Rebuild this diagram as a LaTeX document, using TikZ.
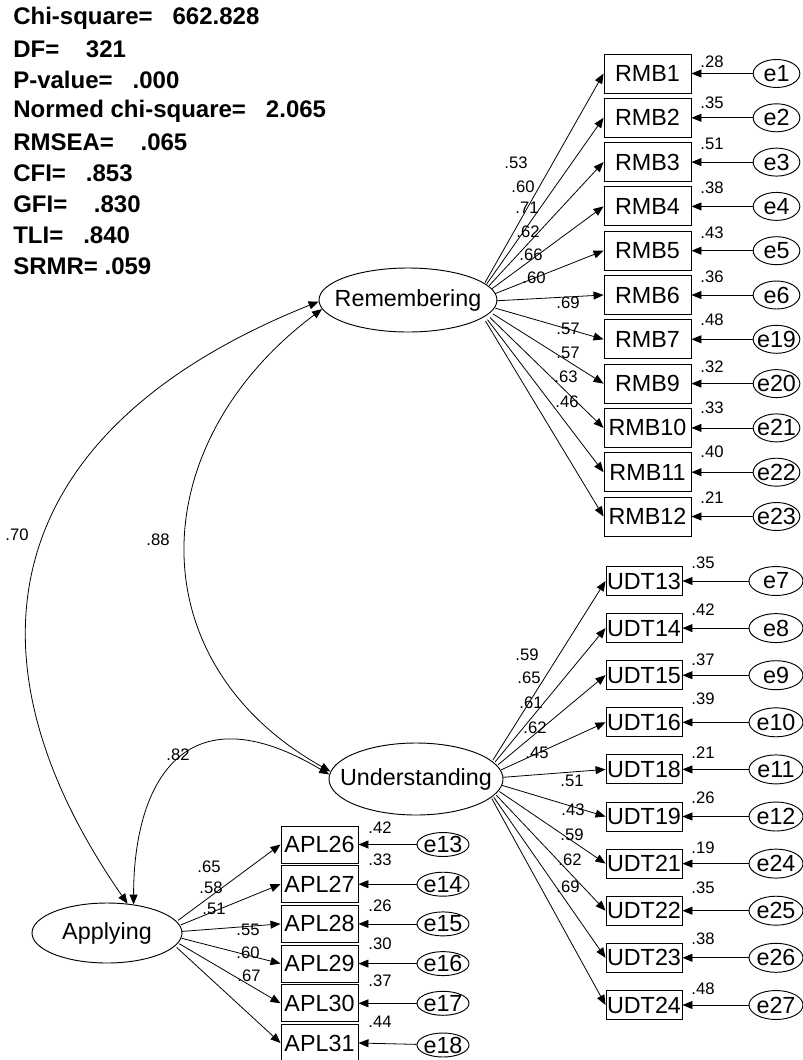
\documentclass[tikz,border=0pt]{standalone}
\usepackage{fontspec}
\setmainfont{Liberation Sans}
\usepackage{tikz}
\usetikzlibrary{shapes, arrows.meta}
\newcommand{\itemfont}{\fontsize{17.5}{21}\selectfont}
\newcommand{\coeffont}{\fontsize{12.5}{15}\selectfont}
\newcommand{\statfont}{\fontsize{18}{22}\selectfont\bfseries}
\newcommand{\zw}[1]{\makebox[0pt]{#1}}
\tikzset{
  lat/.style={draw, ellipse, inner sep=0pt, line width=0.7pt, font=\itemfont},
  obs/.style={draw, rectangle, inner sep=0pt, line width=0.7pt, font=\itemfont},
  err/.style={draw, ellipse, inner sep=0pt, line width=0.7pt, font=\itemfont},
  rmb/.style={obs, minimum width=65.25pt, minimum height=29.25pt},
  udt/.style={obs, minimum width=57pt, minimum height=21.75pt},
  apl/.style={obs, minimum width=57.75pt, minimum height=27.75pt},
  ermb/.style={err, minimum width=35pt, minimum height=21pt},
  eudt/.style={err, minimum width=40.5pt, minimum height=21.75pt},
  eapl/.style={err, minimum width=39pt, minimum height=18pt},
  hub/.style={circle, inner sep=0pt},
  coef/.style={inner sep=0pt, font=\coeffont},
  stat/.style={anchor=west, inner sep=0pt, font=\statfont},
  load/.style={-{Triangle[length=7.5pt,width=6pt]}, line width=0.6pt},
  cov/.style={{Triangle[length=7.5pt,width=6pt]}-{Triangle[length=7.5pt,width=6pt]}, line width=0.6pt}
}

\begin{document}
\begin{tikzpicture}[x=0.75pt, y=-0.75pt]
\useasboundingbox (0,0) rectangle (803,1060);
% fit indices
\node[stat] (chi) at (13,18) {Chi-square=~~~662.828};
\node[stat] (df) at (13,49) {DF=~~~~321};
\node[stat] (pval) at (13,80) {P-value=~~~.000};
\node[stat] (cmin) at (13,111) {Normed chi-square=~~~2.065};
\node[stat] (rmsea) at (13,142) {RMSEA=~~~~.065};
\node[stat] (cfi) at (13,173) {CFI=~~~.853};
\node[stat] (gfi) at (13,204) {GFI=~~~~.830};
\node[stat] (tli) at (13,235) {TLI=~~~.840};
\node[stat] (srmr) at (13,266) {SRMR= .059};
% latent factors
\node[lat, minimum width=133.5pt, minimum height=48pt] (Rem) at (408,300) {\zw{Remembering}};
\node[lat, minimum width=130.5pt, minimum height=54pt] (Und) at (416,779) {\zw{Understanding}};
\node[lat, minimum width=112.5pt, minimum height=45pt] (App) at (107,933) {\zw{Applying}};
% where the loadings leave the factors
\node[hub, minimum size=33pt] (remR) at (474,302) {};
\node[hub, minimum size=33pt] (undR) at (481,779) {};
\node[hub, minimum size=31.5pt] (appR) at (161,933) {};
% Remembering items
\node[rmb] (RMB1) at (647.5,73.5) {RMB1};\node[ermb] (e1) at (776.5,73.5) {\zw{e1}};
\node[rmb] (RMB2) at (647.5,117.8) {RMB2};\node[ermb] (e2) at (776.5,117.8) {\zw{e2}};
\node[rmb] (RMB3) at (647.5,162.1) {RMB3};\node[ermb] (e3) at (776.5,162.1) {\zw{e3}};
\node[rmb] (RMB4) at (647.5,206.4) {RMB4};\node[ermb] (e4) at (776.5,206.4) {\zw{e4}};
\node[rmb] (RMB5) at (647.5,250.7) {RMB5};\node[ermb] (e5) at (776.5,250.7) {\zw{e5}};
\node[rmb] (RMB6) at (647.5,295) {RMB6};\node[ermb] (e6) at (776.5,295) {\zw{e6}};
\node[rmb] (RMB7) at (647.5,339.3) {RMB7};\node[ermb] (e19) at (776.5,339.3) {\zw{e19}};
\node[rmb] (RMB9) at (647.5,383.6) {RMB9};\node[ermb] (e20) at (776.5,383.6) {\zw{e20}};
\node[rmb] (RMB10) at (647.5,427.9) {RMB10};\node[ermb] (e21) at (776.5,427.9) {\zw{e21}};
\node[rmb] (RMB11) at (647.5,472.2) {RMB11};\node[ermb] (e22) at (776.5,472.2) {\zw{e22}};
\node[rmb] (RMB12) at (647.5,516.5) {RMB12};\node[ermb] (e23) at (776.5,516.5) {\zw{e23}};
% Understanding items
\node[udt] (UDT13) at (644,581) {UDT13};\node[eudt] (e7) at (776,581) {\zw{e7}};
\node[udt] (UDT14) at (644,628.1) {UDT14};\node[eudt] (e8) at (776,628.1) {\zw{e8}};
\node[udt] (UDT15) at (644,675.2) {UDT15};\node[eudt] (e9) at (776,675.2) {\zw{e9}};
\node[udt] (UDT16) at (644,722.3) {UDT16};\node[eudt] (e10) at (776,722.3) {\zw{e10}};
\node[udt] (UDT18) at (644,769.4) {UDT18};\node[eudt] (e11) at (776,769.4) {\zw{e11}};
\node[udt] (UDT19) at (644,816.5) {UDT19};\node[eudt] (e12) at (776,816.5) {\zw{e12}};
\node[udt] (UDT21) at (644,863.6) {UDT21};\node[eudt] (e24) at (776,863.6) {\zw{e24}};
\node[udt] (UDT22) at (644,910.7) {UDT22};\node[eudt] (e25) at (776,910.7) {\zw{e25}};
\node[udt] (UDT23) at (644,957.8) {UDT23};\node[eudt] (e26) at (776,957.8) {\zw{e26}};
\node[udt] (UDT24) at (644,1005) {UDT24};\node[eudt] (e27) at (776,1005) {\zw{e27}};
% Applying items
\node[apl] (APL26) at (319.5,844.5) {APL26};\node[eapl] (e13) at (443,844.5) {\zw{e13}};
\node[apl] (APL27) at (319.5,884.2) {APL27};\node[eapl] (e14) at (443,884.2) {\zw{e14}};
\node[apl] (APL28) at (319.5,923.9) {APL28};\node[eapl] (e15) at (443,923.9) {\zw{e15}};
\node[apl] (APL29) at (319.5,963.6) {APL29};\node[eapl] (e16) at (443,963.6) {\zw{e16}};
\node[apl] (APL30) at (319.5,1003.3) {APL30};\node[eapl] (e17) at (443,1003.3) {\zw{e17}};
\node[apl] (APL31) at (319.5,1043) {APL31};\node[eapl] (e18) at (443,1045) {\zw{e18}};
% loadings
\draw[load] (remR) -- (RMB1.west);\draw[load] (remR) -- (RMB2.west);\draw[load] (remR) -- (RMB3.west);\draw[load] (remR) -- (RMB4.west);
\draw[load] (remR) -- (RMB5.west);\draw[load] (remR) -- (RMB6.west);\draw[load] (remR) -- (RMB7.west);\draw[load] (remR) -- (RMB9.west);
\draw[load] (remR) -- (RMB10.west);\draw[load] (remR) -- (RMB11.west);\draw[load] (remR) -- (RMB12.west);
\draw[load] (undR) -- (UDT13.west);\draw[load] (undR) -- (UDT14.west);\draw[load] (undR) -- (UDT15.west);\draw[load] (undR) -- (UDT16.west);
\draw[load] (undR) -- (UDT18.west);\draw[load] (undR) -- (UDT19.west);\draw[load] (undR) -- (UDT21.west);\draw[load] (undR) -- (UDT22.west);
\draw[load] (undR) -- (UDT23.west);\draw[load] (undR) -- (UDT24.west);
\draw[load] (appR) -- (APL26.west);\draw[load] (appR) -- (APL27.west);\draw[load] (appR) -- (APL28.west);
\draw[load] (appR) -- (APL29.west);\draw[load] (appR) -- (APL30.west);\draw[load] (appR) -- (APL31.west);
% error terms
\draw[load] (e1) -- (RMB1);\draw[load] (e2) -- (RMB2);\draw[load] (e3) -- (RMB3);\draw[load] (e4) -- (RMB4);
\draw[load] (e5) -- (RMB5);\draw[load] (e6) -- (RMB6);\draw[load] (e19) -- (RMB7);\draw[load] (e20) -- (RMB9);
\draw[load] (e21) -- (RMB10);\draw[load] (e22) -- (RMB11);\draw[load] (e23) -- (RMB12);
\draw[load] (e7) -- (UDT13);\draw[load] (e8) -- (UDT14);\draw[load] (e9) -- (UDT15);\draw[load] (e10) -- (UDT16);
\draw[load] (e11) -- (UDT18);\draw[load] (e12) -- (UDT19);\draw[load] (e24) -- (UDT21);\draw[load] (e25) -- (UDT22);
\draw[load] (e26) -- (UDT23);\draw[load] (e27) -- (UDT24);
\draw[load] (e13) -- (APL26);\draw[load] (e14) -- (APL27);\draw[load] (e15) -- (APL28);
\draw[load] (e16) -- (APL29);\draw[load] (e17) -- (APL30);\draw[load] (e18) -- (APL31.east);
% correlations
\draw[cov] (Rem.181) .. controls +(-325,130) and +(-171,-246) .. (App.55);
\draw[cov] (Rem.186) .. controls +(-179,134) and +(-195,-110) .. (Und.175);
\draw[cov] (Und.177) .. controls +(-146,-87) and +(0,-120) .. (App.47);
\node[coef] (c70) at (17,535) {.70};\node[coef] (c88) at (158,540) {.88};\node[coef] (c82) at (178,755) {.82};
% loading estimates
\node[coef] at (516,163) {.53};\node[coef] at (523,187) {.60};\node[coef] at (527,208) {.71};\node[coef] at (528,232) {.62};
\node[coef] at (531,255) {.66};\node[coef] at (534,278) {.60};\node[coef] at (568,303) {.69};\node[coef] at (568,329) {.57};
\node[coef] at (568,353) {.57};\node[coef] at (566,377) {.63};\node[coef] at (567,402) {.46};
\node[coef] at (527,655) {.59};\node[coef] at (529,678) {.65};\node[coef] at (531,703) {.61};\node[coef] at (535,728) {.62};
\node[coef] at (537,753) {.45};\node[coef] at (572,781) {.51};\node[coef] at (573,810) {.43};\node[coef] at (572,835) {.59};
\node[coef] at (570,860) {.62};\node[coef] at (568,887) {.69};
\node[coef] at (209,867) {.65};\node[coef] at (211,888) {.58};\node[coef] at (214,909) {.51};
\node[coef] at (248,930) {.55};\node[coef] at (248,953) {.60};\node[coef] at (249,976) {.67};
% squared multiple correlations
\node[coef] at (712,62) {.28};\node[coef] at (712,103) {.35};\node[coef] at (712,144) {.51};\node[coef] at (712,188) {.38};
\node[coef] at (712,233) {.43};\node[coef] at (712,277) {.36};\node[coef] at (712,320) {.48};\node[coef] at (712,367) {.32};
\node[coef] at (712,408) {.33};\node[coef] at (712,452) {.40};\node[coef] at (712,498) {.21};
\node[coef] at (703,563) {.35};\node[coef] at (703,610) {.42};\node[coef] at (703,660) {.37};\node[coef] at (703,699) {.39};
\node[coef] at (703,753) {.21};\node[coef] at (703,798) {.26};\node[coef] at (703,848) {.19};\node[coef] at (703,888) {.35};
\node[coef] at (703,939) {.38};\node[coef] at (703,989) {.48};
\node[coef] at (380,828) {.42};\node[coef] at (380,860) {.33};\node[coef] at (380,906) {.26};
\node[coef] at (380,944) {.30};\node[coef] at (380,981) {.37};\node[coef] at (380,1022) {.44};
\end{tikzpicture}
\end{document}
